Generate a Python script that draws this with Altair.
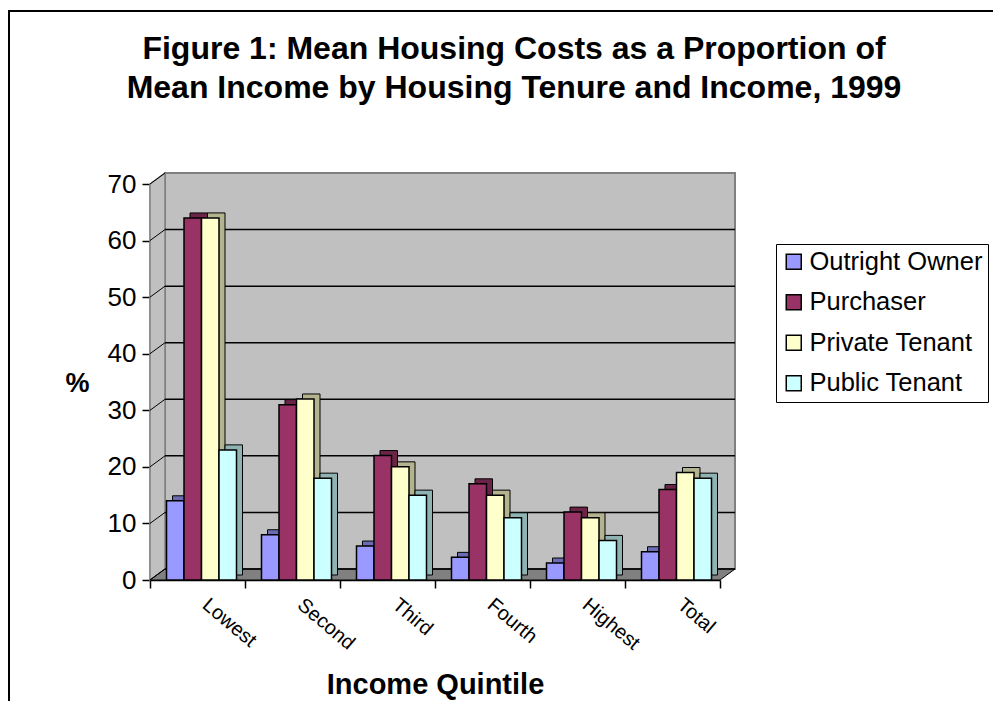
import altair as alt
import pandas as pd

QUINTILES = ["Lowest", "Second", "Third", "Fourth", "Highest", "Total"]
TENURES = ["Outright Owner", "Purchaser", "Private Tenant", "Public Tenant"]
OWNER = [14, 8, 6, 4, 3, 5]
PURCHASER = [64, 31, 22, 17, 12, 16]
PRIVATE = [64, 32, 20, 15, 11, 19]
PUBLIC = [23, 18, 15, 11, 7, 18]
Y_TICKS = [0, 10, 20, 30, 40, 50, 60, 70]
TITLE_LINES = ["Figure 1: Mean Housing Costs as a Proportion of",
               "Mean Income by Housing Tenure and Income, 1999"]

FRONT = ["#9999FF", "#993366", "#FFFFCC", "#CCFFFF"]
SIDE = ["#6b6bb3", "#6b2447", "#b3b38f", "#8fb3b3"]

W, H = 570, 396
DX, DY = 15, 11          # depth of the 3-D walls
BX, BY = 6, 5            # depth of the bars
GROUP = 70               # width of a group of four bars
START = 16.5             # where a group starts inside its category band
FONT = "Liberation Sans"

rows = []
for series, name in zip([OWNER, PURCHASER, PRIVATE, PUBLIC], TENURES):
    for q, v in zip(QUINTILES, series):
        rows.append({"quintile": q, "tenure": name, "value": v})
df = pd.DataFrame(rows)

one = pd.DataFrame({"a": [0]})
ticks_df = pd.DataFrame({"v": Y_TICKS})
grid_df = pd.DataFrame({"v": Y_TICKS[:-1]})

# outer frame
frame = alt.Chart(one).mark_rect(fillOpacity=0, stroke="black", strokeWidth=2).encode(
    x=alt.value(-141), x2=alt.value(W + 400), y=alt.value(-173), y2=alt.value(H + 300))

# back wall
wall = alt.Chart(one).mark_rect(fill="#c0c0c0", stroke="#808080", strokeWidth=2).encode(
    x=alt.value(DX), x2=alt.value(W + DX), y=alt.value(-DY), y2=alt.value(H - DY))

# left side wall (parallelogram)
side_df = pd.DataFrame({"px": [0, DX], "top": [0, -DY], "bot": [H, H - DY]})
side_wall = alt.Chart(side_df).mark_area(fill="#c0c0c0", stroke="#808080", strokeWidth=1.5).encode(
    x=alt.X("px:Q", scale=None, axis=None),
    y=alt.Y("top:Q", scale=None, axis=None),
    y2="bot:Q")

# floor (parallelogram)
floor_df = pd.DataFrame({"px": [0, DX, W, W + DX],
                         "top": [H, H - DY, H - DY, H - DY],
                         "bot": [H, H, H, H - DY]})
floor = alt.Chart(floor_df).mark_area(fill="#808080", stroke="black", strokeWidth=1).encode(
    x=alt.X("px:Q", scale=None, axis=None),
    y=alt.Y("top:Q", scale=None, axis=None),
    y2="bot:Q")

# back-wall gridlines
grid = alt.Chart(grid_df).mark_rule(color="black", strokeWidth=1.5, yOffset=-DY).encode(
    y=alt.Y("v:Q", axis=None),
    x=alt.value(DX), x2=alt.value(W + DX))

# side-wall diagonal gridlines
diag = alt.Chart(ticks_df).mark_rule(color="black", strokeWidth=1, y2Offset=-DY).encode(
    y=alt.Y("v:Q", axis=None), y2="v:Q",
    x=alt.value(0), x2=alt.value(DX))

# bar side/top shading (same bars, pushed back and up)
shadow = alt.Chart(df).mark_bar(stroke="black", strokeWidth=1,
                                yOffset=-BY, y2Offset=-BY).encode(
    x=alt.X("quintile:N", sort=QUINTILES, axis=None),
    xOffset=alt.XOffset("tenure:N", sort=TENURES,
                        scale=alt.Scale(range=[START + BX, START + BX + GROUP])),
    y=alt.Y("value:Q", axis=None),
    color=alt.Color("tenure:N", sort=TENURES,
                    scale=alt.Scale(domain=TENURES, range=SIDE), legend=None),
)

bars = alt.Chart(df).mark_bar(stroke="black", strokeWidth=1.5).encode(
    x=alt.X("quintile:N", sort=QUINTILES,
            scale=alt.Scale(paddingInner=0, paddingOuter=0),
            axis=alt.Axis(orient="bottom", title="Income Quintile", tickBand="extent",
                          tickSize=8, tickColor="black", tickWidth=1.5, domainColor="black",
                          domainWidth=1.5, labelAngle=40, labelAlign="left",
                          labelBaseline="middle", labelFontSize=20, labelPadding=14,
                          labelOffset=7, labelColor="black", labelFont=FONT,
                          titleFontSize=29, titleFont=FONT, titleFontWeight="bold",
                          titleColor="black", titleY=113, titleBaseline="alphabetic")),
    xOffset=alt.XOffset("tenure:N", sort=TENURES,
                        scale=alt.Scale(range=[START, START + GROUP])),
    y=alt.Y("value:Q", scale=alt.Scale(domain=[0, 70], nice=False),
            axis=alt.Axis(orient="left", values=Y_TICKS, title="%", grid=False, tickSize=8,
                          tickColor="black", tickWidth=1.5, domainColor="black",
                          domainWidth=1.5, labelFontSize=26, labelPadding=6,
                          labelColor="black", labelFont=FONT,
                          titleAngle=0, titleX=-73, titleY=199, titleAlign="center",
                          titleBaseline="middle", titleFontSize=27, titleFont=FONT,
                          titleFontWeight="bold", titleColor="black")),
    color=alt.Color("tenure:N", sort=TENURES,
                    scale=alt.Scale(domain=TENURES, range=FRONT),
                    legend=alt.Legend(title=None, orient="none", legendX=626, legendY=60,
                                      strokeColor="black", padding=5, rowPadding=13.5,
                                      symbolType="square", symbolSize=225,
                                      symbolStrokeColor="black", symbolStrokeWidth=1.5,
                                      labelFontSize=25.5, labelFont=FONT, labelColor="black",
                                      labelOffset=3, labelLimit=400, fillColor="white")),
)

title = alt.Chart(one).mark_text(fontSize=32, font=FONT, fontWeight="bold", align="center",
                                 baseline="alphabetic", lineHeight=39, color="black").encode(
    x=alt.value(364), y=alt.value(-125), text=alt.value(TITLE_LINES))

chart = alt.layer(frame, wall, side_wall, floor, grid, diag, shadow, bars, title).resolve_scale(
    color="independent", xOffset="independent"
).resolve_axis(
    x="independent", y="independent"
).properties(
    width=W, height=H,
    autosize=alt.AutoSizeParams(type="none"),
    padding={"left": 142, "top": 176, "right": 273, "bottom": 121},
).configure_view(stroke=None).configure(font=FONT)

chart.save("out.html", embed_options={"renderer": "svg", "actions": False})
